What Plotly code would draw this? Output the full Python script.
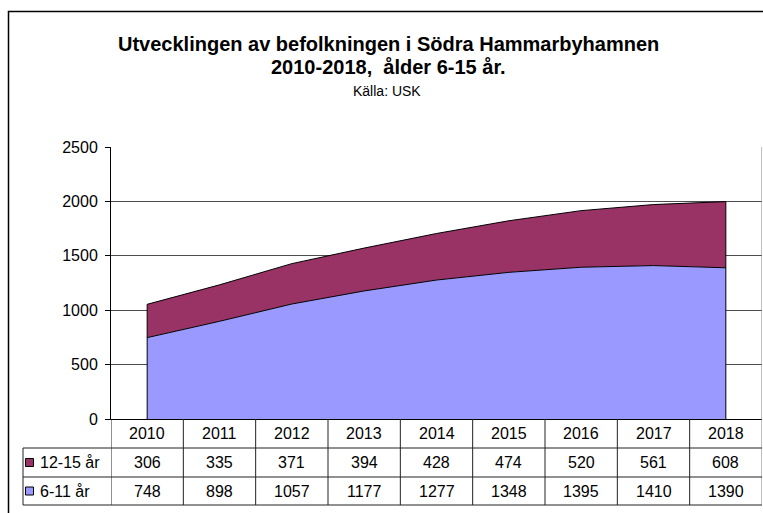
import plotly.graph_objects as go

# ---- data ----
years = ["2010", "2011", "2012", "2013", "2014", "2015", "2016", "2017", "2018"]
age_6_11 = [748, 898, 1057, 1177, 1277, 1348, 1395, 1410, 1390]
age_12_15 = [306, 335, 371, 394, 428, 474, 520, 561, 608]
name_6_11 = "6-11 år"
name_12_15 = "12-15 år"
y_ticks = [0, 500, 1000, 1500, 2000, 2500]

title_1 = "Utvecklingen av befolkningen i Södra Hammarbyhamnen"
title_2 = "2010-2018,  ålder 6-15 år."
source = "Källa: USK"

col_6_11 = "#9999FF"
col_12_15 = "#993366"

W, H = 763, 513
FONT = "Liberation Sans, Arial, sans-serif"


def px(x):
    return x / W


def py(y):
    return 1 - y / H


idx = list(range(len(years)))
totals = [a + b for a, b in zip(age_6_11, age_12_15)]

fig = go.Figure()
fig.add_trace(go.Scatter(x=idx, y=age_6_11, stackgroup="one", mode="lines",
                         line=dict(color="black", width=1), fillcolor=col_6_11,
                         name=name_6_11, showlegend=False))
fig.add_trace(go.Scatter(x=idx, y=age_12_15, stackgroup="one", mode="lines",
                         line=dict(color="black", width=1), fillcolor=col_12_15,
                         name=name_12_15, showlegend=False))
# vertical edges of the area
fig.add_trace(go.Scatter(x=[idx[0], idx[0], None, idx[-1], idx[-1]],
                         y=[0, totals[0], None, 0, totals[-1]],
                         mode="lines", line=dict(color="black", width=1),
                         showlegend=False, hoverinfo="skip"))

plot_left, plot_right, plot_top, plot_bottom = 111, 762, 147, 419
row_lines = [419, 448, 477, 505]
label_left = 23

shapes = []
# outer chart border
shapes.append(dict(type="rect", xref="paper", yref="paper",
                   x0=px(8.5), x1=px(775), y0=py(11.5), y1=py(530),
                   line=dict(color="black", width=1.5)))
# right border of plot area + table
shapes.append(dict(type="line", xref="x", yref="paper",
                   x0=len(years) - 0.5, x1=len(years) - 0.5,
                   y0=py(plot_top), y1=py(row_lines[-1]),
                   line=dict(color="#808080", width=1)))
# table horizontal lines
for yl in row_lines[1:]:
    shapes.append(dict(type="line", xref="paper", yref="paper",
                       x0=px(label_left), x1=px(plot_right),
                       y0=py(yl), y1=py(yl),
                       line=dict(color="#222222", width=1)))
# table vertical lines
for k in range(len(years)):
    shapes.append(dict(type="line", xref="x", yref="paper",
                       x0=k - 0.5, x1=k - 0.5,
                       y0=py(row_lines[0]), y1=py(row_lines[-1]),
                       line=dict(color="#222222", width=1)))
shapes.append(dict(type="line", xref="paper", yref="paper",
                   x0=px(label_left), x1=px(label_left),
                   y0=py(row_lines[1]), y1=py(row_lines[-1]),
                   line=dict(color="#222222", width=1)))

annotations = []


def ann(text, x, y, xref="paper", size=16, xanchor="center"):
    return dict(text=text, x=x, y=y, xref=xref, yref="paper", showarrow=False,
                xanchor=xanchor, yanchor="middle",
                font=dict(family=FONT, size=size, color="black"))


annotations.append(ann("<b>" + title_1 + "</b>", px(388), py(44), size=20))
annotations.append(ann("<b>" + title_2 + "</b>", px(388), py(67), size=20))
annotations.append(ann(source, px(387), py(91), size=14))

row_centers = [(row_lines[i] + row_lines[i + 1]) / 2 for i in range(3)]
for k, yr in enumerate(years):
    annotations.append(ann(yr, k, py(row_centers[0]), xref="x"))
    annotations.append(ann(str(age_12_15[k]), k, py(row_centers[1]), xref="x"))
    annotations.append(ann(str(age_6_11[k]), k, py(row_centers[2]), xref="x"))

for name, col, rc in [(name_12_15, col_12_15, row_centers[1]), (name_6_11, col_6_11, row_centers[2])]:
    shapes.append(dict(type="rect", xref="paper", yref="paper",
                       x0=px(25.5), x1=px(33.5), y0=py(rc - 4), y1=py(rc + 4),
                       fillcolor=col, line=dict(color="black", width=1)))
    annotations.append(ann(name, px(38), py(rc), xanchor="left"))

fig.update_layout(
    template="none",
    width=W, height=H, autosize=False,
    margin=dict(l=0, r=0, t=0, b=0, pad=0, autoexpand=False),
    paper_bgcolor="white", plot_bgcolor="white",
    font=dict(family=FONT, size=16, color="black"),
    shapes=shapes, annotations=annotations,
    showlegend=False,
    xaxis=dict(domain=[px(plot_left), px(plot_right)], range=[-0.5, len(years) - 0.5],
               showticklabels=False, showgrid=False, zeroline=False, ticks="",
               automargin=False,
               showline=True, linecolor="black", linewidth=1, fixedrange=True),
    yaxis=dict(domain=[py(plot_bottom), py(plot_top)], range=[0, 2500],
               tickvals=y_ticks, ticktext=[str(v) for v in y_ticks],
               ticks="outside", ticklen=5, tickcolor="black", tickwidth=1,
               ticklabelstandoff=4, automargin=False,
               showgrid=True, gridcolor="#4d4d4d", gridwidth=1, zeroline=False,
               showline=True, linecolor="black", linewidth=1,
               tickfont=dict(family=FONT, size=16, color="black"), fixedrange=True),
)

fig.write_html("out.html", config={"displayModeBar": False})
